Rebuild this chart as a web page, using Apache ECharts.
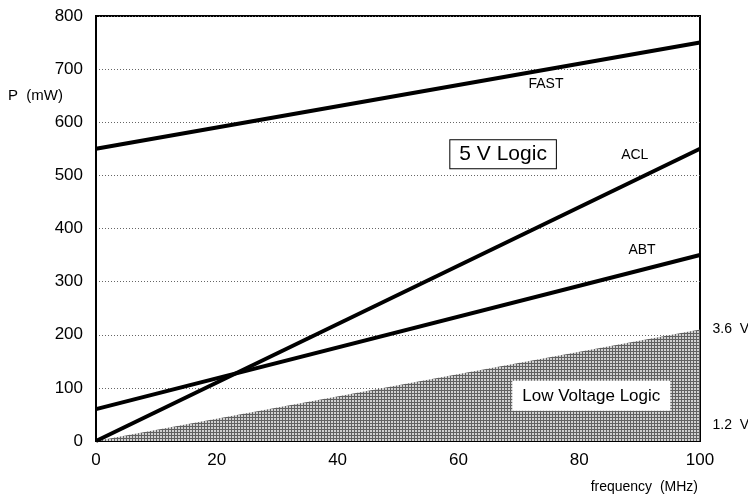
<!DOCTYPE html>
<html>
<head>
<meta charset="utf-8">
<script src="https://cdn.jsdelivr.net/npm/echarts@6/dist/echarts.min.js"></script>
<style>
  html, body { margin: 0; padding: 0; background: #fff; }
  #chart { width: 748px; height: 497px; }
</style>
</head>
<body>
<div id="chart"></div>
<script>
// frequency (MHz) at the two ends of each straight line
var freq = [0, 100];
var fast = [550, 750];
var acl = [0, 550];
var abt = [60, 350];
var lowVoltage = [0, 210];

var xTicks = [0, 20, 40, 60, 80, 100];
var yTicks = [0, 100, 200, 300, 400, 500, 600, 700, 800];

// text notes placed at data positions
var noteText = ['FAST', 'ACL', 'ABT', '5 V Logic', 'Low Voltage Logic', '3.6  V', '1.2  V'];
var noteX = [74.5, 89.2, 90.4, 67.4, 82, 100, 100];
var noteY = [672, 538, 360, 540, 85, 210, 30];

function pairs(ys) {
  return freq.map(function (f, i) { return [f, ys[i]]; });
}

// halftone-ish fill for the low voltage area
function halftone() {
  var c = document.createElement('canvas');
  c.width = 3; c.height = 3;
  var ctx = c.getContext('2d');
  ctx.fillStyle = '#d0d0d0';
  ctx.fillRect(0, 0, 3, 3);
  ctx.fillStyle = '#606060';
  ctx.fillRect(0, 0, 3, 1);
  ctx.fillRect(0, 0, 1, 3);
  return c;
}

var chart = echarts.init(document.getElementById('chart'));

var noteStyles = {
  'FAST': { fontSize: 14 },
  'ACL': { fontSize: 14 },
  'ABT': { fontSize: 14 },
  '5 V Logic': { fontSize: 21, borderColor: '#000', borderWidth: 1, padding: [4, 9, 3, 9], backgroundColor: '#fff' },
  'Low Voltage Logic': { fontSize: 17, backgroundColor: '#fff', padding: [7, 10, 6, 10] },
  '3.6  V': { fontSize: 14, position: 'right', distance: 12 },
  '1.2  V': { fontSize: 14, position: 'right', distance: 12 }
};

var notes = noteText.map(function (t, i) {
  var st = noteStyles[t];
  return {
    value: [noteX[i], noteY[i]],
    label: Object.assign({
      show: true,
      position: 'inside',
      formatter: t,
      color: '#000',
      opacity: 1,
      textBorderWidth: 0,
      fontFamily: 'Liberation Sans'
    }, st)
  };
});

var lineStyle = { color: '#000', width: 4 };

var option = {
  animation: false,
  textStyle: { fontFamily: 'Liberation Sans' },
  grid: {
    left: 96, right: 48, top: 16, bottom: 56,
    show: true, borderColor: '#000', borderWidth: 2, backgroundColor: 'transparent'
  },
  xAxis: {
    type: 'value',
    min: 0, max: 100, interval: 20,
    axisLine: { show: true, lineStyle: { color: '#000', width: 2 } },
    axisTick: { show: true, inside: true, length: 6, lineStyle: { color: '#000', width: 1.5 } },
    minorTick: { show: true, splitNumber: 2, length: 6, lineStyle: { color: '#000', width: 1.5 } },
    axisLabel: {
      fontSize: 17, color: '#000', margin: 11,
      formatter: function (v) { return xTicks.indexOf(v) >= 0 ? String(v) : ''; }
    },
    splitLine: { show: false }
  },
  yAxis: {
    type: 'value',
    min: 0, max: 800, interval: 100,
    axisLine: { show: true, lineStyle: { color: '#000', width: 2 } },
    axisTick: { show: false },
    axisLabel: {
      fontSize: 17, color: '#000', margin: 13,
      formatter: function (v) { return yTicks.indexOf(v) >= 0 ? String(v) : ''; }
    },
    splitLine: { show: true, lineStyle: { color: '#666', type: [1, 2], width: 1 } }
  },
  graphic: [
    { type: 'text', left: 8, top: 88, style: { text: 'P  (mW)', font: '15px Liberation Sans', fill: '#000' } },
    { type: 'text', right: 50, top: 480, style: { text: 'frequency  (MHz)', font: '14px Liberation Sans', fill: '#000' } }
  ],
  series: [
    {
      name: 'Low Voltage Logic', type: 'line', data: pairs(lowVoltage),
      symbol: 'none', lineStyle: { width: 0 },
      areaStyle: { color: { image: halftone(), repeat: 'repeat' }, opacity: 1 },
      z: 1
    },
    { name: 'FAST', type: 'line', data: pairs(fast), symbol: 'none', lineStyle: lineStyle, z: 3 },
    { name: 'ACL', type: 'line', data: pairs(acl), symbol: 'none', lineStyle: lineStyle, z: 3 },
    { name: 'ABT', type: 'line', data: pairs(abt), symbol: 'none', lineStyle: lineStyle, z: 3 },
    {
      name: 'notes', type: 'scatter', data: notes,
      symbolSize: 1, itemStyle: { color: '#fff', opacity: 0 },
      clip: false, z: 5
    }
  ]
};

chart.setOption(option);
</script>
</body>
</html>
